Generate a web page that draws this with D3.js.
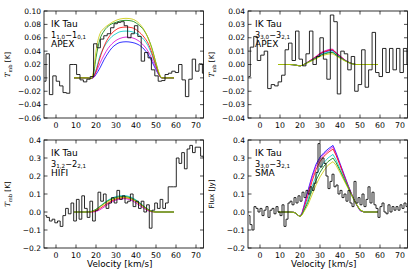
<!DOCTYPE html>
<html>
<head>
<meta charset="utf-8">
<title>IK Tau spectra</title>
<style>
body { margin: 0; background: #fff; }
svg text { font-family: "DejaVu Sans", sans-serif; fill: #000; }
</style>
<script src="https://d3js.org/d3.v7.min.js"></script>
</head>
<body>
<script>

// ---- data ----
const velTicks = [0, 10, 20, 30, 40, 50, 60, 70];
const velDomain = [-6, 73.75];

// observed spectra (channel start, channel width, values)
const p1Start = -6.7, p1Width = 1.7;
const p1Flux = [-0.005, 0.036, -0.025, 0.003, -0.005, -0.012, -0.022, -0.023, 0.020, 0.020,
  0.005, -0.003, -0.006, -0.002, 0.002, 0.051, 0.045, 0.058, 0.063, 0.066,
  0.075, 0.081, 0.083, 0.084, 0.078, 0.060, 0.066, 0.078, 0.062, 0.025,
  0.038, 0.030, 0.012, 0.003, -0.005, -0.004, 0.005, 0.007, 0.010, 0.008,
  0.020, -0.003, -0.028, -0.002, 0.028, 0.010, 0.021, 0.007];

const p2Start = -6.6, p2Width = 1.74;
const p2Flux = [-0.009, 0.013, 0.021, 0.003, 0.007, 0.010, -0.018, -0.015, -0.016, -0.013,
  -0.008, 0.011, 0.016, 0.003, 0.025, 0.004, -0.001, 0.008, 0.025, 0.0,
  0.006, 0.020, 0.004, -0.011, 0.037, 0.032, -0.022, 0.010, 0.008, -0.004,
  0.006, -0.020, -0.015, 0.011, -0.017, -0.004, 0.024, -0.006, -0.009, 0.012,
  -0.006, 0.012, -0.004, 0.012, -0.006, 0.012, 0.0];

const p3Start = -6, p3Width = 1.35;
const p3Flux = [-0.02, -0.03, -0.05, -0.04, -0.06, -0.05, -0.08, -0.02, 0.02, -0.01,
  0.05, -0.05, 0.07, -0.04, 0.09, 0.02, -0.03, 0.06, -0.05, 0.01,
  0.11, 0.06, 0.10, 0.02, 0.05, 0.08, 0.05, 0.12, 0.07, 0.09,
  0.05, 0.06, 0.10, 0.03, 0.06, 0.02, 0.06, 0.0, 0.04, -0.09,
  0.01, 0.05, 0.02, 0.07, 0.02, 0.05, 0.14, 0.14, 0.14, 0.30,
  0.27, 0.33, 0.24, 0.35, 0.37, 0.33, 0.36, 0.36, 0.31, 0.30];

const p4Start = -6, p4Width = 1.0;
const p4Flux = [-0.02, -0.07, -0.10, 0.03, 0.02, 0.00, 0.02, -0.02, 0.01, 0.03,
  -0.03, 0.01, 0.02, -0.01, 0.03, 0.00, -0.02, 0.04, -0.08, -0.04,
  0.05, 0.06, 0.04, 0.08, 0.05, 0.09, 0.06, 0.11, 0.08, 0.12,
  0.10, 0.14, 0.12, 0.16, 0.22, 0.38, 0.25, 0.30, 0.27, 0.20,
  0.13, 0.17, 0.21, 0.14, 0.15, 0.10, 0.12, 0.08, 0.10, 0.06,
  0.12, 0.05, 0.03, 0.17, 0.05, 0.08, 0.04, 0.10, 0.03, 0.07,
  0.14, 0.05, 0.11, 0.04, 0.02, -0.03, 0.03, 0.05, 0.00, -0.01,
  0.04, 0.00, 0.03, 0.01, 0.03, 0.01, 0.04, 0.02, 0.05, 0.03];

// model curves
const p1ModelVel = [9, 16, 17.5, 19, 20, 22, 24, 26, 28, 30, 32, 35, 38, 41, 44, 46, 48, 50, 52, 53, 55, 59];
const p1Models = {
  blue:    [0, 0, -0.001, 0.001, 0.005, 0.015, 0.027, 0.037, 0.045, 0.050, 0.053, 0.054, 0.053, 0.050, 0.043, 0.035, 0.024, 0.012, 0.002, 0, 0, 0],
  magenta: [0, 0, -0.001, 0.002, 0.008, 0.022, 0.034, 0.044, 0.051, 0.056, 0.059, 0.061, 0.060, 0.056, 0.048, 0.040, 0.028, 0.014, 0.002, 0, 0, 0],
  cyan:    [0, 0, -0.001, 0.004, 0.012, 0.033, 0.046, 0.055, 0.062, 0.066, 0.069, 0.070, 0.069, 0.065, 0.057, 0.048, 0.034, 0.017, 0.002, 0, 0, 0],
  red:     [0, 0, -0.001, 0.003, 0.010, 0.030, 0.047, 0.059, 0.067, 0.072, 0.075, 0.076, 0.075, 0.070, 0.061, 0.052, 0.037, 0.018, 0.002, 0, 0, 0],
  green:   [0, 0, -0.001, 0.010, 0.030, 0.058, 0.070, 0.077, 0.081, 0.083, 0.085, 0.086, 0.085, 0.080, 0.071, 0.060, 0.044, 0.022, 0.003, 0, 0, 0],
  yellow:  [0, 0, -0.001, 0.015, 0.040, 0.066, 0.074, 0.079, 0.083, 0.086, 0.088, 0.089, 0.088, 0.083, 0.072, 0.060, 0.043, 0.022, 0.004, 0, 0, 0]
};

const p2ModelVel = [9, 15, 18, 20, 22, 24, 26, 28, 30, 32, 34, 36, 38, 40, 42, 44, 46, 48, 52, 59];
const p2Models = {
  blue:    [0, 0, -0.0005, -0.001, 0, 0.0018, 0.0036, 0.0054, 0.0077, 0.0091, 0.0100, 0.0105, 0.0083, 0.0060, 0.0037, 0.0019, 0.0007, 0, 0, 0],
  magenta: [0, 0, -0.0005, -0.001, 0, 0.0020, 0.0040, 0.0060, 0.0085, 0.0100, 0.0110, 0.0115, 0.0090, 0.0065, 0.0040, 0.0020, 0.0007, 0, 0, 0],
  red:     [0, 0, -0.0005, -0.001, 0, 0.0019, 0.0038, 0.0057, 0.0080, 0.0095, 0.0105, 0.0110, 0.0086, 0.0062, 0.0038, 0.0019, 0.0007, 0, 0, 0],
  cyan:    [0, 0, -0.0005, -0.001, 0, 0.0017, 0.0033, 0.0050, 0.0070, 0.0083, 0.0091, 0.0095, 0.0076, 0.0055, 0.0034, 0.0018, 0.0006, 0, 0, 0],
  green:   [0, 0, -0.0005, -0.001, 0, 0.0016, 0.0031, 0.0047, 0.0066, 0.0078, 0.0086, 0.0090, 0.0072, 0.0052, 0.0033, 0.0017, 0.0006, 0, 0, 0],
  yellow:  [0, 0, -0.0005, -0.001, 0, 0.0014, 0.0028, 0.0042, 0.0059, 0.0070, 0.0077, 0.0080, 0.0065, 0.0047, 0.0030, 0.0016, 0.0005, 0, 0, 0]
};

const p3ModelVel = [9, 15, 17, 18, 20, 22, 24, 26, 28, 30, 32, 34, 36, 38, 40, 42, 44, 46, 48, 50, 52, 59];
const p3Models = {
  magenta: [0, 0, 0, 0, 0.003, 0.013, 0.027, 0.042, 0.056, 0.066, 0.072, 0.074, 0.071, 0.063, 0.050, 0.035, 0.020, 0.007, 0.001, 0, 0, 0],
  red:     [0, 0, 0, 0.001, 0.007, 0.020, 0.035, 0.050, 0.063, 0.072, 0.077, 0.079, 0.077, 0.070, 0.058, 0.043, 0.027, 0.012, 0.003, 0, 0, 0],
  cyan:    [0, 0, 0.001, 0.004, 0.015, 0.032, 0.050, 0.066, 0.078, 0.086, 0.090, 0.091, 0.088, 0.080, 0.067, 0.050, 0.032, 0.015, 0.004, 0, 0, 0],
  green:   [0, 0, 0.001, 0.004, 0.014, 0.030, 0.047, 0.062, 0.073, 0.081, 0.085, 0.086, 0.083, 0.075, 0.063, 0.047, 0.030, 0.014, 0.004, 0, 0, 0],
  yellow:  [0, 0, 0.001, 0.003, 0.013, 0.028, 0.044, 0.058, 0.069, 0.076, 0.080, 0.081, 0.078, 0.071, 0.059, 0.044, 0.028, 0.013, 0.003, 0, 0, 0]
};

const p4ModelVel = [9, 15, 17, 18, 19, 20, 21, 22, 24, 26, 28, 30, 32, 34, 36.5, 38, 40, 42, 44, 46, 48, 50, 52, 59];
const p4Models = {
  blue:    [0, 0, -0.002, -0.008, -0.018, -0.025, -0.005, 0.035, 0.12, 0.20, 0.265, 0.305, 0.33, 0.35, 0.37, 0.33, 0.27, 0.21, 0.15, 0.095, 0.045, 0.008, 0, 0],
  magenta: [0, 0, -0.002, -0.008, -0.018, -0.025, -0.007, 0.030, 0.11, 0.19, 0.255, 0.295, 0.322, 0.34, 0.362, 0.322, 0.265, 0.205, 0.148, 0.094, 0.045, 0.008, 0, 0],
  red:     [0, 0, -0.002, -0.008, -0.018, -0.025, -0.010, 0.022, 0.09, 0.17, 0.235, 0.28, 0.31, 0.33, 0.35, 0.315, 0.26, 0.20, 0.145, 0.093, 0.046, 0.010, 0, 0],
  cyan:    [0, 0, -0.002, -0.008, -0.018, -0.025, -0.013, 0.012, 0.07, 0.14, 0.20, 0.245, 0.275, 0.30, 0.32, 0.29, 0.24, 0.19, 0.14, 0.09, 0.046, 0.011, 0, 0],
  green:   [0, 0, -0.002, -0.008, -0.018, -0.025, -0.015, 0.007, 0.055, 0.12, 0.175, 0.22, 0.255, 0.28, 0.30, 0.275, 0.23, 0.183, 0.136, 0.089, 0.047, 0.012, 0, 0],
  yellow:  [0, 0, -0.002, -0.008, -0.018, -0.025, -0.017, 0.002, 0.04, 0.095, 0.15, 0.195, 0.23, 0.26, 0.28, 0.26, 0.218, 0.175, 0.132, 0.088, 0.047, 0.013, 0, 0]
};

const p1YTicks = [-0.06, -0.04, -0.02, 0.00, 0.02, 0.04, 0.06, 0.08, 0.10];
const p2YTicks = [-0.04, -0.03, -0.02, -0.01, 0.00, 0.01, 0.02, 0.03, 0.04];
const p34YTicks = [-0.2, -0.1, 0.0, 0.1, 0.2, 0.3, 0.4];

// ---- style ----
const lineColors = {
  blue: "#0000ff", magenta: "#d800d8", cyan: "#00c8c8",
  red: "#ff0000", green: "#008000", yellow: "#c8c800"
};

const W = 415, H = 277;

const svg = d3.select("body").append("svg")
  .attr("width", W).attr("height", H)
  .attr("viewBox", `0 0 ${W} ${H}`);
svg.append("rect").attr("width", W).attr("height", H).attr("fill", "#fff");

const panels = [
  { id: 1, box: [44, 11, 203.5, 118], yDomain: [-0.06, 0.10], yTicks: p1YTicks, fmt: d3.format(".2f"),
    start: p1Start, width: p1Width, flux: p1Flux, mVel: p1ModelVel, models: p1Models, smooth: true,
    ylab: "T", trans: ["1", "1,0", "1", "0,1"], inst: "APEX", xlab: false },
  { id: 2, box: [248, 11, 407.5, 118], yDomain: [-0.04, 0.04], yTicks: p2YTicks, fmt: d3.format(".2f"),
    start: p2Start, width: p2Width, flux: p2Flux, mVel: p2ModelVel, models: p2Models, smooth: true,
    ylab: "T", trans: ["3", "3,0", "3", "2,1"], inst: "APEX", xlab: false },
  { id: 3, box: [44, 140, 203.5, 248], yDomain: [-0.2, 0.4], yTicks: p34YTicks, fmt: d3.format(".1f"),
    start: p3Start, width: p3Width, flux: p3Flux, mVel: p3ModelVel, models: p3Models, smooth: true,
    ylab: "T", trans: ["3", "1,2", "2", "2,1"], inst: "HIFI", xlab: true },
  { id: 4, box: [248, 140, 407.5, 248], yDomain: [-0.2, 0.4], yTicks: p34YTicks, fmt: d3.format(".1f"),
    start: p4Start, width: p4Width, flux: p4Flux, mVel: p4ModelVel, models: p4Models, smooth: false,
    ylab: "Flux", trans: ["3", "3,0", "3", "2,1"], inst: "SMA", xlab: true }
];

panels.forEach(p => drawPanel(p));

function drawPanel(p) {
  const [x0, y0, x1, y1] = p.box;
  const x = d3.scaleLinear().domain(velDomain).range([x0, x1]);
  const y = d3.scaleLinear().domain(p.yDomain).range([y1, y0]);
  const g = svg.append("g");

  g.append("clipPath").attr("id", "clip" + p.id)
    .append("rect").attr("x", x0).attr("y", y0).attr("width", x1 - x0).attr("height", y1 - y0);
  const inner = g.append("g").attr("clip-path", `url(#clip${p.id})`);

  // model curves
  const mline = d3.line()
    .x(d => x(d[0])).y(d => y(d[1]))
    .curve(p.smooth ? d3.curveMonotoneX : d3.curveLinear);
  Object.keys(p.models).forEach(name => {
    const pts = p.mVel.map((v, i) => [v, p.models[name][i]]);
    inner.append("path")
      .attr("d", mline(pts))
      .attr("fill", "none")
      .attr("stroke", lineColors[name])
      .attr("stroke-width", 1)
      .attr("stroke-opacity", 0.8);
  });

  // observed spectrum, steps-mid
  const pts = p.flux.map((v, i) => [p.start + p.width * (i + 0.5), v]);
  const sline = d3.line().x(d => x(d[0])).y(d => y(d[1])).curve(d3.curveStep);
  inner.append("path")
    .attr("d", sline(pts))
    .attr("fill", "none")
    .attr("stroke", "#111")
    .attr("stroke-width", 0.9);

  // frame
  g.append("rect").attr("x", x0).attr("y", y0).attr("width", x1 - x0).attr("height", y1 - y0)
    .attr("fill", "none").attr("stroke", "#000").attr("stroke-width", 0.8);

  const tl = 3.5;
  velTicks.forEach(v => {
    const xx = x(v);
    g.append("line").attr("x1", xx).attr("x2", xx).attr("y1", y1).attr("y2", y1 - tl).attr("stroke", "#000").attr("stroke-width", 0.7);
    g.append("line").attr("x1", xx).attr("x2", xx).attr("y1", y0).attr("y2", y0 + tl).attr("stroke", "#000").attr("stroke-width", 0.7);
    g.append("text").attr("x", xx).attr("y", y1 + 10)
      .attr("text-anchor", "middle").attr("font-size", 7.8).text(v);
  });
  p.yTicks.forEach(t => {
    const yy = y(t);
    g.append("line").attr("x1", x0).attr("x2", x0 + tl).attr("y1", yy).attr("y2", yy).attr("stroke", "#000").attr("stroke-width", 0.7);
    g.append("line").attr("x1", x1).attr("x2", x1 - tl).attr("y1", yy).attr("y2", yy).attr("stroke", "#000").attr("stroke-width", 0.7);
    g.append("text").attr("x", x0 - 3).attr("y", yy).attr("dy", "0.35em")
      .attr("text-anchor", "end").attr("font-size", 7.5).text(p.fmt(t));
  });

  // y label
  const ly = g.append("text")
    .attr("transform", `translate(${x0 - 34},${(y0 + y1) / 2}) rotate(-90)`)
    .attr("text-anchor", "middle").attr("font-size", 7.2);
  if (p.ylab === "T") {
    ly.append("tspan").attr("font-family", "DejaVu Serif").attr("font-style", "italic").text("T");
    ly.append("tspan").attr("font-family", "DejaVu Serif").attr("font-size", 5).attr("dy", 1.5).text("mb");
    ly.append("tspan").attr("dy", -1.5).text(" [K]");
  } else {
    ly.text("Flux [Jy]");
  }

  if (p.xlab) {
    g.append("text").attr("x", (x0 + x1) / 2 - 4).attr("y", y1 + 19)
      .attr("text-anchor", "middle").attr("font-size", 8.8).text("Velocity [km/s]");
  }

  // annotations
  const ax = x0 + 7;
  g.append("text").attr("x", ax).attr("y", y0 + 16).attr("font-size", 9).text("IK Tau");
  const tr = g.append("text").attr("x", ax).attr("y", y0 + 26.5)
    .attr("font-family", "DejaVu Serif").attr("font-size", 8.2).attr("fill", "#333");
  tr.append("tspan").text(p.trans[0]);
  tr.append("tspan").attr("font-size", 5.6).attr("dy", 1.8).text(p.trans[1]);
  tr.append("tspan").attr("dy", -1.8).text("\u2212" + p.trans[2]);
  tr.append("tspan").attr("font-size", 5.6).attr("dy", 1.8).text(p.trans[3]);
  g.append("text").attr("x", ax).attr("y", y0 + 36).attr("font-size", 9).text(p.inst);
}

</script>
</body>
</html>
